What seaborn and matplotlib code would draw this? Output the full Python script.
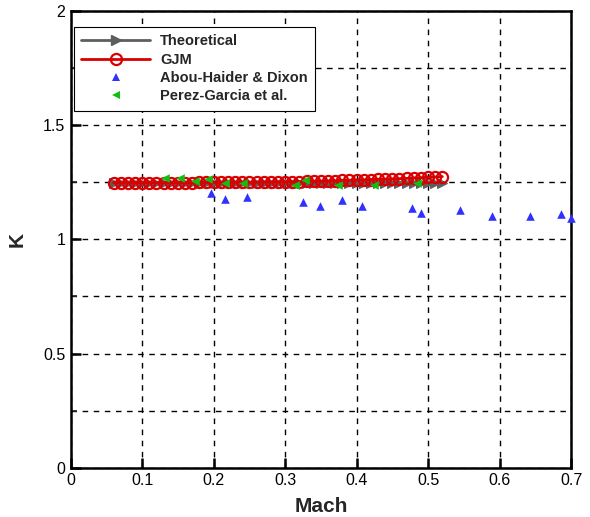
import numpy as np
import pandas as pd
import matplotlib
matplotlib.use("Agg")
import matplotlib.pyplot as plt
from matplotlib.ticker import MultipleLocator
from matplotlib.lines import Line2D
import seaborn as sns

# Theoretical curve and GJM results (Mach, K)
mach_model = [0.06, 0.07, 0.08, 0.09, 0.10, 0.11, 0.12, 0.13, 0.14, 0.15,
              0.16, 0.17, 0.18, 0.19, 0.20, 0.21, 0.22, 0.23, 0.24, 0.25,
              0.26, 0.27, 0.28, 0.29, 0.30, 0.31, 0.32, 0.33, 0.34, 0.35,
              0.36, 0.37, 0.38, 0.39, 0.40, 0.41, 0.42, 0.43, 0.44, 0.45,
              0.46, 0.47, 0.48, 0.49, 0.50, 0.51, 0.52]
k_theoretical = [1.246, 1.246, 1.246, 1.246, 1.246, 1.246, 1.246, 1.246, 1.246, 1.246,
                 1.246, 1.246, 1.246, 1.246, 1.246, 1.246, 1.246, 1.246, 1.246, 1.246,
                 1.246, 1.246, 1.246, 1.246, 1.246, 1.246, 1.246, 1.246, 1.246, 1.246,
                 1.246, 1.246, 1.246, 1.246, 1.246, 1.246, 1.246, 1.246, 1.246, 1.246,
                 1.246, 1.246, 1.246, 1.246, 1.246, 1.246, 1.246]
k_gjm = [1.248, 1.248, 1.248, 1.248, 1.248, 1.248, 1.248, 1.248, 1.248, 1.248,
         1.248, 1.248, 1.249, 1.249, 1.249, 1.249, 1.249, 1.250, 1.250, 1.250,
         1.250, 1.251, 1.251, 1.252, 1.252, 1.253, 1.253, 1.254, 1.255, 1.255,
         1.256, 1.257, 1.258, 1.259, 1.260, 1.261, 1.262, 1.263, 1.264, 1.265,
         1.266, 1.267, 1.269, 1.270, 1.272, 1.273, 1.275]

# Experimental data: Abou-Haider & Dixon
mach_abou = [0.196, 0.216, 0.246, 0.325, 0.349, 0.379, 0.407, 0.477, 0.490,
             0.545, 0.589, 0.643, 0.686, 0.700]
k_abou = [1.204, 1.177, 1.186, 1.165, 1.148, 1.171, 1.148, 1.138, 1.116,
          1.128, 1.104, 1.102, 1.113, 1.095]

# Experimental data: Perez-Garcia et al.
mach_perez = [0.132, 0.153, 0.174, 0.192, 0.216, 0.241, 0.314, 0.328, 0.374,
              0.425, 0.484]
k_perez = [1.269, 1.269, 1.254, 1.266, 1.246, 1.246, 1.237, 1.258, 1.240,
           1.240, 1.248]

x_ticks = [0, 0.1, 0.2, 0.3, 0.4, 0.5, 0.6, 0.7]
x_tick_labels = ["0", "0.1", "0.2", "0.3", "0.4", "0.5", "0.6", "0.7"]
y_ticks = [0, 0.5, 1, 1.5, 2]
y_tick_labels = ["0", "0.5", "1", "1.5", "2"]

sns.set_theme(style="white")
plt.rcParams["font.family"] = ["Liberation Sans", "DejaVu Sans"]

GRAY = "#5e5e5e"
RED = "#d80000"
BLUE = "#3030ff"
GREEN = "#10c010"

fig = plt.figure(figsize=(5.9, 5.17), dpi=100)
ax = fig.add_axes([0.1198, 0.0954, 0.848, 0.8833])

model = pd.DataFrame({"Mach": mach_model, "Theoretical": k_theoretical, "GJM": k_gjm})
abou = pd.DataFrame({"Mach": mach_abou, "K": k_abou})
perez = pd.DataFrame({"Mach": mach_perez, "K": k_perez})

sns.lineplot(data=model, x="Mach", y="Theoretical", ax=ax, color=GRAY, lw=2,
             marker=">", markersize=6.5, markeredgecolor=GRAY, markerfacecolor=GRAY,
             zorder=3, legend=False)
sns.lineplot(data=model, x="Mach", y="GJM", ax=ax, color=RED, lw=2,
             marker="o", markersize=8, markeredgecolor=RED, markerfacecolor="none",
             markeredgewidth=1.6, zorder=4, legend=False)
sns.scatterplot(data=abou, x="Mach", y="K", ax=ax, color=BLUE, marker="^", s=38,
                edgecolor=BLUE, linewidth=0, zorder=5, legend=False, clip_on=False)
sns.scatterplot(data=perez, x="Mach", y="K", ax=ax, color=GREEN, marker="<", s=38,
                edgecolor=GREEN, linewidth=0, zorder=6, legend=False)

ax.set_xlim(0, 0.7)
ax.set_ylim(0, 2)
ax.set_xticks(x_ticks)
ax.set_xticklabels(x_tick_labels)
ax.set_yticks(y_ticks)
ax.set_yticklabels(y_tick_labels)
ax.yaxis.set_minor_locator(MultipleLocator(0.25))

ax.grid(True, which="major", axis="both", color="black", linestyle=(0, (4, 4)), lw=1)
ax.grid(True, which="minor", axis="y", color="black", linestyle=(0, (4, 4)), lw=1)
ax.set_axisbelow(True)

for side in ["left", "bottom", "right", "top"]:
    ax.spines[side].set_visible(True)
    ax.spines[side].set_color("black")
    ax.spines[side].set_linewidth(1.8)

ax.tick_params(axis="both", which="major", direction="in", length=7, width=1.8,
               labelsize=11.5, colors="black", bottom=True, left=True,
               top=False, right=False, pad=4)
ax.tick_params(axis="y", which="minor", direction="in", length=4, width=1.2,
               left=True, right=False)

ax.set_xlabel("Mach", fontsize=15, fontweight="bold", labelpad=6)
ax.set_ylabel("K", fontsize=15, fontweight="bold", labelpad=12)

handles = [
    Line2D([], [], color=GRAY, lw=2, marker=">", markersize=6.5,
           markerfacecolor=GRAY, markeredgecolor=GRAY),
    Line2D([], [], color=RED, lw=2, marker="o", markersize=8,
           markerfacecolor="none", markeredgecolor=RED, markeredgewidth=1.6),
    Line2D([], [], ls="none", marker="^", markersize=6, color=BLUE,
           markeredgewidth=0),
    Line2D([], [], ls="none", marker="<", markersize=6, color=GREEN,
           markeredgewidth=0),
]
labels = ["Theoretical", "GJM", "Abou-Haider & Dixon", "Perez-Garcia et al."]
leg = ax.legend(handles, labels, loc="upper left", bbox_to_anchor=(0.0066, 0.965),
                borderaxespad=0, frameon=True, fancybox=False, framealpha=1,
                edgecolor="black", handlelength=4.7, handletextpad=0.7,
                labelspacing=0.3, borderpad=0.5, numpoints=1,
                prop={"weight": "bold", "size": 10.5})
leg.get_frame().set_linewidth(0.8)

fig.savefig("out.png", dpi=100)
